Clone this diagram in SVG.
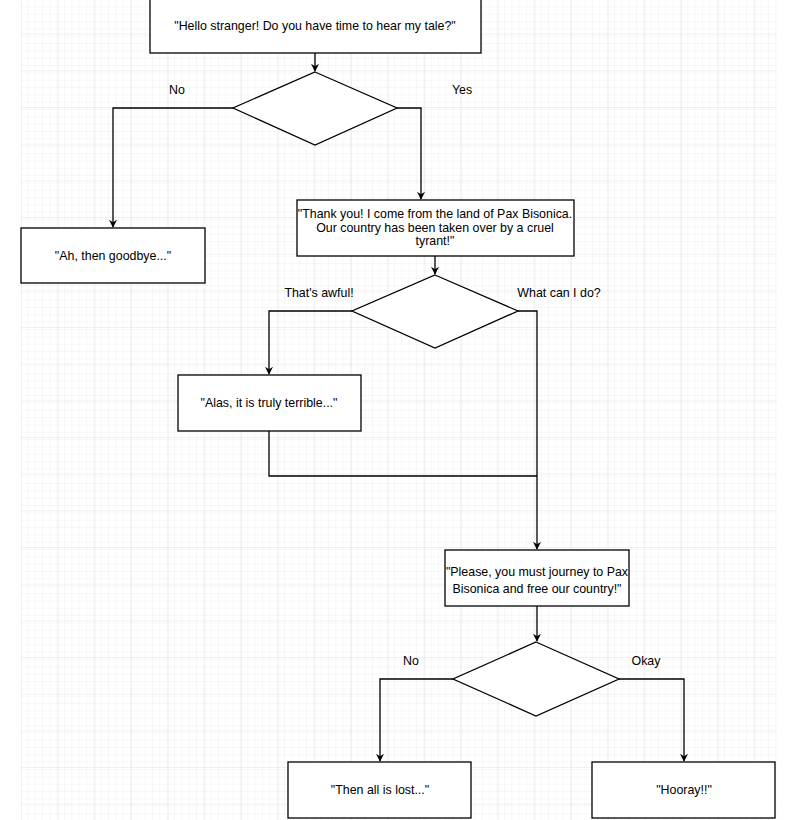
<svg xmlns="http://www.w3.org/2000/svg" width="793" height="820" viewBox="0 0 793 820">
<defs>
<pattern id="minor" width="7.333" height="7.333" patternUnits="userSpaceOnUse" x="21" y="0"><path d="M7.333 0V7.333H0" fill="none" stroke="#f0f0f0" stroke-width="1"/></pattern>
<pattern id="major" width="36.667" height="36.667" patternUnits="userSpaceOnUse" x="21" y="-3"><path d="M0 0V36.667M0 0H36.667" fill="none" stroke="#e2e2e2" stroke-width="1"/></pattern>
<marker id="arr" viewBox="0 0 10 10" refX="9" refY="5" markerWidth="8" markerHeight="8" orient="auto" markerUnits="userSpaceOnUse"><path d="M0 0L10 5L0 10L3 5Z" fill="#000"/></marker>
</defs>
<style>
.n{fill:#fff;stroke:#000;stroke-width:1.3}
.t{font-family:"Liberation Sans",Arial,sans-serif;font-size:12.4px;fill:#000;text-anchor:middle}
.c{fill:none;stroke:#000;stroke-width:1.3}
</style>
<rect width="793" height="820" fill="#fff"/>
<rect x="21" y="0" width="756" height="820" fill="url(#minor)"/>
<rect x="21" y="0" width="756" height="820" fill="url(#major)"/>
<g id="connectors">
<path class="c" d="M315 53V71" marker-end="url(#arr)"/>
<path class="c" d="M233 108H113V227" marker-end="url(#arr)"/>
<path class="c" d="M397 108H421V199" marker-end="url(#arr)"/>
<path class="c" d="M435 256V274" marker-end="url(#arr)"/>
<path class="c" d="M352 311H269V374" marker-end="url(#arr)"/>
<path class="c" d="M518 311H537V549" marker-end="url(#arr)"/>
<path class="c" d="M269 431V476H537"/>
<path class="c" d="M537 606V641" marker-end="url(#arr)"/>
<path class="c" d="M453 679H380V761" marker-end="url(#arr)"/>
<path class="c" d="M619 679H684V761" marker-end="url(#arr)"/>
<text class="t" x="177" y="94">No</text>
<text class="t" x="462" y="94">Yes</text>
<text class="t" x="319" y="297">That's awful!</text>
<text class="t" x="559" y="297">What can I do?</text>
<text class="t" x="411" y="665">No</text>
<text class="t" x="646" y="665">Okay</text>
</g>
<g id="start"><rect class="n" x="150" y="-10" width="331" height="63"/><text class="t" x="315" y="30">"Hello stranger! Do you have time to hear my tale?"</text></g>
<g id="d1"><path class="n" d="M315 72L397 108L315 145L233 108Z"/></g>
<g id="goodbye"><rect class="n" x="21" y="228" width="184" height="55"/><text class="t" x="113" y="260">"Ah, then goodbye..."</text></g>
<g id="thanks"><rect class="n" x="297" y="200" width="277" height="56"/><text class="t" x="435" y="218">"Thank you! I come from the land of Pax Bisonica.</text><text class="t" x="435" y="232">Our country has been taken over by a cruel</text><text class="t" x="435" y="245">tyrant!"</text></g>
<g id="d2"><path class="n" d="M435 275L518 311L435 348L352 311Z"/></g>
<g id="alas"><rect class="n" x="178" y="375" width="183" height="56"/><text class="t" x="269" y="407">"Alas, it is truly terrible..."</text></g>
<g id="please"><rect class="n" x="445" y="550" width="184" height="56"/><text class="t" x="537" y="576">"Please, you must journey to Pax</text><text class="t" x="537" y="593">Bisonica and free our country!"</text></g>
<g id="d3"><path class="n" d="M536 642L619 679L536 716L453 679Z"/></g>
<g id="lost"><rect class="n" x="288" y="762" width="183" height="56"/><text class="t" x="380" y="794">"Then all is lost..."</text></g>
<g id="hooray"><rect class="n" x="592" y="762" width="183" height="56"/><text class="t" x="684" y="794">"Hooray!!"</text></g>
</svg>
